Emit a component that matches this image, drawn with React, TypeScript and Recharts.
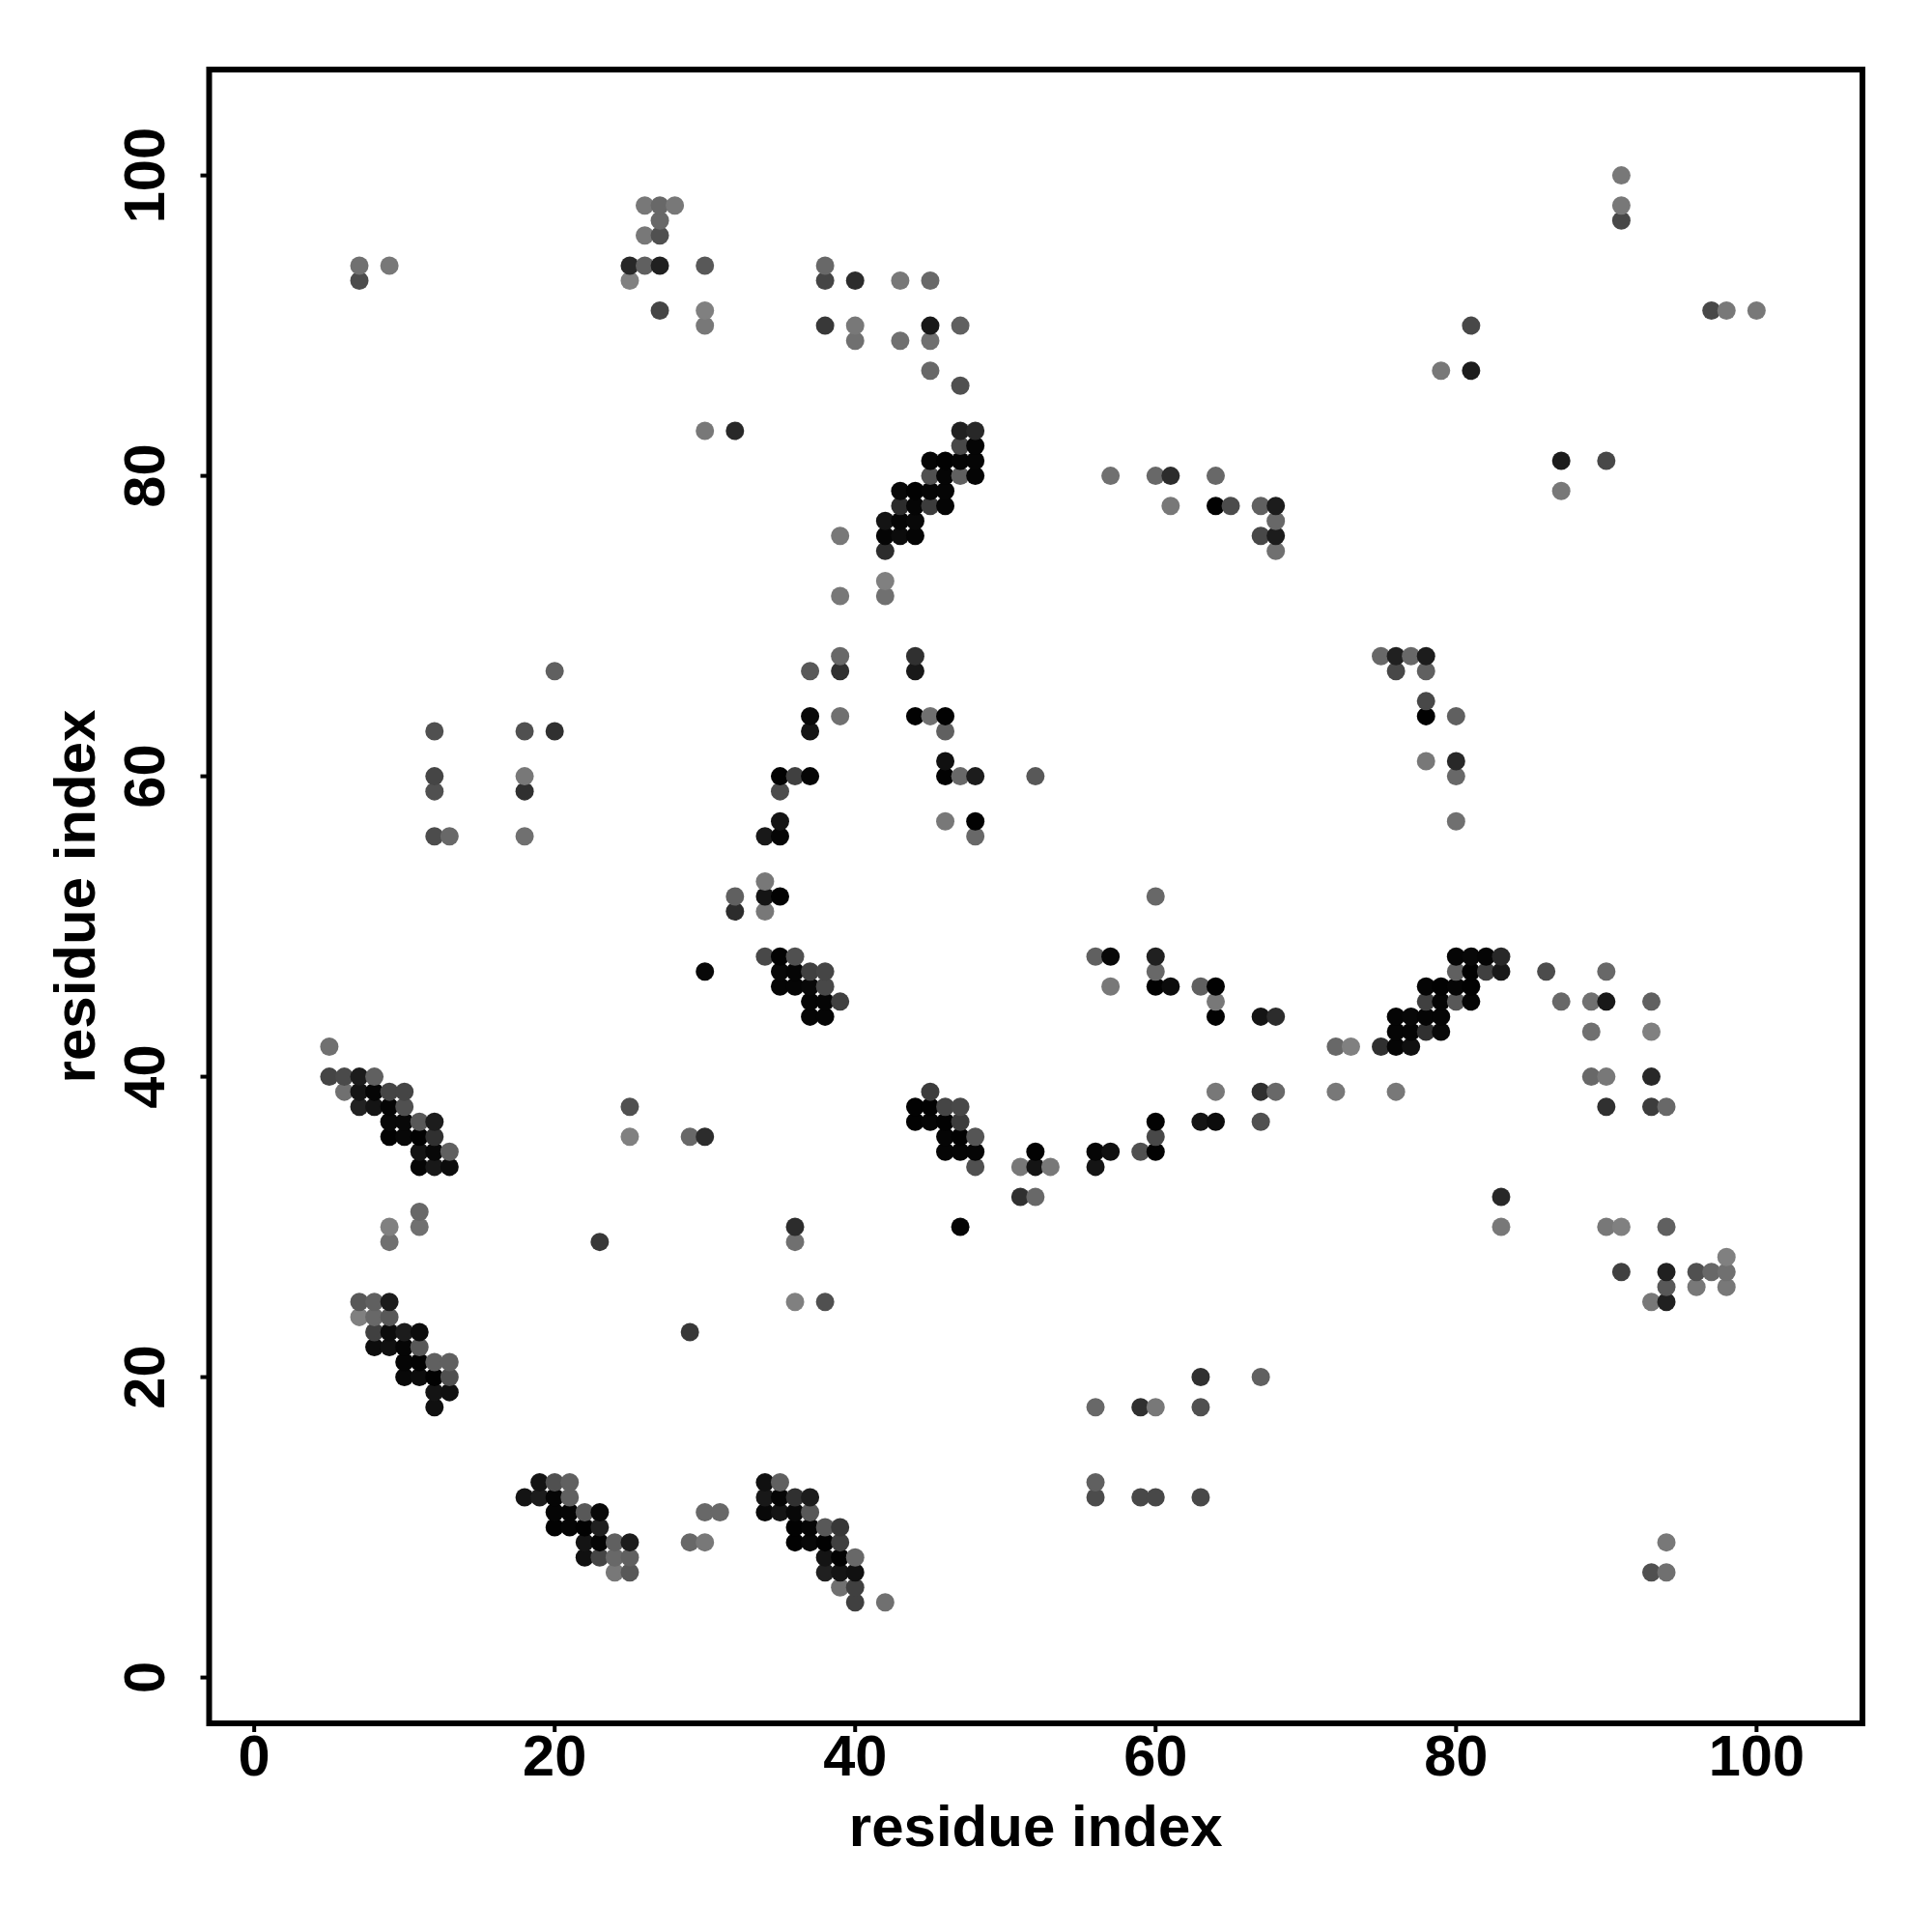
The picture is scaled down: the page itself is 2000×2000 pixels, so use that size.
import React from "react";
import {
  ScatterChart,
  Scatter,
  XAxis,
  YAxis,
  Label,
  ReferenceArea,
} from "recharts";

const axisTicks = [0, 20, 40, 60, 80, 100];
const axisTitle = "residue index";

// one entry per row of the contact map, bottom to top (later rows overlap earlier ones)
const rowIndex = [
  5, 6, 7, 8, 9, 10, 11, 12, 13, 18, 19, 20, 21, 22, 23, 24, 25, 26, 27, 28,
  29, 30, 31, 32, 34, 35, 36, 37, 38, 39, 40, 42, 43, 44, 45, 46, 47, 48, 51,
  52, 53, 56, 57, 59, 60, 61, 63, 64, 65, 67, 68, 72, 73, 75, 76, 77, 78, 79,
  80, 81, 82, 83, 86, 87, 89, 90, 91, 93, 94, 96, 97, 98, 100,
];

const rowResidues = [
  [40, 42],
  [39, 40],
  [24, 25, 38, 39, 40, 93, 94],
  [22, 23, 24, 25, 38, 39, 40],
  [22, 23, 24, 25, 29, 30, 36, 37, 38, 39, 94],
  [20, 21, 22, 23, 36, 37, 38, 39],
  [20, 21, 22, 23, 30, 31, 34, 35, 36, 37],
  [18, 19, 20, 21, 34, 35, 36, 37, 56, 59, 60, 63],
  [19, 20, 21, 34, 35, 56],
  [12, 56, 59, 60, 63],
  [12, 13],
  [10, 11, 12, 13, 63, 67],
  [10, 11, 12, 13],
  [8, 9, 10, 11],
  [8, 9, 10, 11, 29],
  [7, 8, 9],
  [7, 8, 9, 36, 38, 93, 94],
  [94, 96, 98],
  [91, 94, 96, 97, 98],
  [98],
  [9, 23, 36],
  [9, 11, 36, 47, 83, 90, 91, 94],
  [11],
  [51, 52, 83],
  [11, 12, 13, 48, 51, 52, 53, 56],
  [11, 12, 13, 46, 47, 48, 52, 56, 57, 59, 60],
  [9, 10, 11, 12, 25, 29, 30, 46, 47, 48, 60],
  [9, 10, 11, 12, 44, 45, 46, 47, 60, 63, 64, 67],
  [7, 8, 9, 10, 25, 44, 45, 46, 47, 90, 93, 94],
  [6, 7, 8, 9, 10, 45, 64, 67, 68, 72, 76],
  [5, 6, 7, 8, 89, 90, 93],
  [5, 72, 73, 75, 76, 77],
  [76, 77, 78, 79, 89, 93],
  [37, 38, 64, 67, 68, 76, 77, 78, 79],
  [37, 38, 39, 64, 78, 79, 80, 81, 87, 89, 90, 93],
  [35, 36, 37, 38, 57, 60, 61, 63, 64, 78, 79, 80, 81],
  [30, 35, 36, 37, 38, 60, 80, 81, 82, 83, 86, 90],
  [34, 35, 36, 56, 57, 60, 80, 81, 82, 83],
  [32, 34],
  [32, 34, 35, 60],
  [34],
  [12, 13, 18, 34, 35, 48],
  [35, 46, 48, 80],
  [12, 18, 35],
  [12, 18, 35, 36, 37, 46, 47, 48, 52, 80],
  [46, 78, 80],
  [12, 18, 20, 37, 46],
  [37, 39, 44, 45, 46, 78, 80],
  [78],
  [20, 37, 39, 44, 76, 78],
  [39, 44, 75, 76, 77, 78],
  [39, 42],
  [42],
  [42, 68],
  [39, 42, 43, 44, 67, 68],
  [42, 43, 44, 68],
  [43, 44, 45, 46, 61, 64, 65, 67, 68],
  [43, 44, 45, 46, 87],
  [45, 46, 47, 48, 57, 60, 61, 64],
  [45, 46, 47, 48, 87, 90],
  [47, 48],
  [30, 32, 47, 48],
  [47],
  [45, 79, 81],
  [40, 43, 45],
  [30, 38, 40, 45, 47, 81],
  [27, 30, 97, 98, 100],
  [7, 25, 38, 40, 43, 45],
  [7, 9, 25, 26, 27, 30, 38],
  [26, 27],
  [27, 91],
  [26, 27, 28, 91],
  [91],
];

// grey level of each point, same shape as rowResidues
const rowGreys = [
  [0x40, 0x70],
  [0x70, 0x40],
  [0x78, 0x58, 0x20, 0x14, 0x10, 0x50, 0x70],
  [0x10, 0x45, 0x68, 0x60, 0x14, 0x02, 0x68],
  [0x14, 0x05, 0x60, 0x1c, 0x68, 0x78, 0x02, 0x08, 0x02, 0x40, 0x78],
  [0x02, 0x05, 0x02, 0x20, 0x02, 0x05, 0x58, 0x38],
  [0x05, 0x05, 0x58, 0x08, 0x68, 0x68, 0x08, 0x14, 0x08, 0x58],
  [0x14, 0x1c, 0x05, 0x60, 0x18, 0x05, 0x30, 0x1c, 0x4c, 0x48, 0x48, 0x48],
  [0x14, 0x50, 0x60, 0x10, 0x60, 0x60],
  [0x10, 0x68, 0x30, 0x78, 0x50],
  [0x14, 0x10],
  [0x08, 0x0c, 0x02, 0x50, 0x30, 0x60],
  [0x05, 0x02, 0x60, 0x60],
  [0x0c, 0x10, 0x05, 0x58],
  [0x40, 0x0c, 0x1c, 0x0c, 0x38],
  [0x80, 0x68, 0x58],
  [0x58, 0x60, 0x1c, 0x80, 0x50, 0x78, 0x20],
  [0x58, 0x78, 0x78],
  [0x40, 0x20, 0x50, 0x68, 0x70],
  [0x80],
  [0x70, 0x38, 0x70],
  [0x80, 0x70, 0x2c, 0x05, 0x78, 0x78, 0x80, 0x60],
  [0x68],
  [0x30, 0x68, 0x28],
  [0x05, 0x18, 0x0c, 0x50, 0x78, 0x14, 0x78, 0x14],
  [0x14, 0x08, 0x60, 0x05, 0x05, 0x05, 0x02, 0x05, 0x10, 0x50, 0x02],
  [0x02, 0x08, 0x02, 0x30, 0x80, 0x68, 0x2c, 0x05, 0x02, 0x55, 0x48],
  [0x08, 0x08, 0x58, 0x1c, 0x02, 0x05, 0x02, 0x3c, 0x02, 0x14, 0x0c, 0x50],
  [0x22, 0x14, 0x05, 0x50, 0x50, 0x02, 0x02, 0x45, 0x48, 0x30, 0x3c, 0x68],
  [0x70, 0x14, 0x05, 0x45, 0x45, 0x3c, 0x78, 0x30, 0x68, 0x78, 0x78],
  [0x45, 0x4a, 0x1c, 0x60, 0x68, 0x78, 0x28],
  [0x70, 0x68, 0x80, 0x30, 0x05, 0x10],
  [0x05, 0x05, 0x30, 0x08, 0x70, 0x80],
  [0x05, 0x05, 0x02, 0x14, 0x2c, 0x05, 0x08, 0x05, 0x05],
  [0x05, 0x05, 0x40, 0x78, 0x40, 0x05, 0x58, 0x05, 0x68, 0x70, 0x18, 0x60],
  [0x05, 0x05, 0x08, 0x48, 0x78, 0x02, 0x0c, 0x60, 0x02, 0x05, 0x02, 0x05, 0x02],
  [0x08, 0x08, 0x05, 0x40, 0x45, 0x68, 0x60, 0x02, 0x40, 0x18, 0x4c, 0x68],
  [0x48, 0x02, 0x50, 0x60, 0x08, 0x20, 0x05, 0x08, 0x05, 0x28],
  [0x2c, 0x78],
  [0x60, 0x14, 0x02, 0x68],
  [0x78],
  [0x4c, 0x68, 0x70, 0x18, 0x05, 0x68],
  [0x14, 0x78, 0x02, 0x70],
  [0x50, 0x30, 0x4c],
  [0x45, 0x78, 0x02, 0x40, 0x05, 0x02, 0x68, 0x1c, 0x58, 0x68],
  [0x10, 0x78, 0x28],
  [0x50, 0x50, 0x30, 0x14, 0x60],
  [0x08, 0x70, 0x02, 0x70, 0x02, 0x02, 0x60],
  [0x48],
  [0x60, 0x58, 0x30, 0x18, 0x48, 0x60],
  [0x68, 0x30, 0x68, 0x20, 0x68, 0x1c],
  [0x78, 0x70],
  [0x80],
  [0x2c, 0x70],
  [0x78, 0x05, 0x0c, 0x05, 0x48, 0x1c],
  [0x14, 0x05, 0x08, 0x68],
  [0x2c, 0x05, 0x3c, 0x05, 0x78, 0x02, 0x4c, 0x60, 0x1c],
  [0x08, 0x02, 0x05, 0x05, 0x78],
  [0x50, 0x05, 0x60, 0x05, 0x70, 0x68, 0x2c, 0x68],
  [0x05, 0x02, 0x05, 0x05, 0x1c, 0x48],
  [0x48, 0x05],
  [0x78, 0x28, 0x20, 0x28],
  [0x50],
  [0x68, 0x78, 0x1c],
  [0x70, 0x70, 0x70],
  [0x78, 0x38, 0x78, 0x18, 0x60, 0x48],
  [0x45, 0x80, 0x48, 0x78, 0x78],
  [0x4c, 0x80, 0x45, 0x2c, 0x78, 0x68],
  [0x70, 0x78, 0x28, 0x60, 0x20, 0x58, 0x68],
  [0x78, 0x50],
  [0x68, 0x48],
  [0x78, 0x68, 0x78, 0x78],
  [0x78],
];

const contacts = rowIndex.flatMap((y, r) =>
  rowResidues[r].map((x, c) => ({ x, y, grey: rowGreys[r][c] }))
);

const FONT = "'Liberation Sans', Arial, sans-serif";

const ContactDot = ({ cx, cy, payload }: any) => (
  <circle
    cx={cx}
    cy={cy}
    r={9.5}
    fill={`rgb(${payload.grey},${payload.grey},${payload.grey})`}
  />
);

const XTick = ({ x, y, payload }: any) => (
  <text
    x={x}
    y={y + 45}
    textAnchor="middle"
    fontFamily={FONT}
    fontWeight="bold"
    fontSize={59.5}
    fill="#000"
  >
    {payload.value}
  </text>
);

const YTick = ({ x, y, payload }: any) => (
  <text
    x={x - 37}
    y={y}
    textAnchor="middle"
    transform={`rotate(-90 ${x - 37} ${y})`}
    fontFamily={FONT}
    fontWeight="bold"
    fontSize={59.5}
    fill="#000"
  >
    {payload.value}
  </text>
);

const titleStyle = {
  fontFamily: FONT,
  fontWeight: "bold",
  fontSize: 60,
  fill: "#000",
  textAnchor: "middle",
} as const;

export default function App() {
  return (
    <div
      style={{
        position: "absolute",
        left: 0,
        top: 0,
        width: 2000,
        height: 2000,
        background: "#fff",
      }}
    >
      <ScatterChart
        width={2000}
        height={2000}
        margin={{ top: 72, right: 72, bottom: 0, left: 0 }}
      >
        <XAxis
          type="number"
          dataKey="x"
          domain={[-3, 107.05]}
          ticks={axisTicks}
          interval={0}
          height={216}
          axisLine={false}
          tickSize={9}
          tickMargin={0}
          tickLine={{ stroke: "#000", strokeWidth: 4 }}
          tick={<XTick />}
        >
          <Label value={axisTitle} position="insideTop" offset={84} style={titleStyle} />
        </XAxis>
        <YAxis
          type="number"
          dataKey="y"
          domain={[-3.05, 107.05]}
          ticks={axisTicks}
          interval={0}
          width={216.5}
          axisLine={false}
          tickSize={9}
          tickMargin={0}
          tickLine={{ stroke: "#000", strokeWidth: 4 }}
          tick={<YTick />}
        >
          <Label
            value={axisTitle}
            position="insideLeft"
            angle={-90}
            offset={77}
            style={titleStyle}
          />
        </YAxis>
        <ReferenceArea
          x1={-3}
          x2={107.05}
          y1={-3.05}
          y2={107.05}
          fill="none"
          stroke="#000"
          strokeWidth={6}
        />
        <Scatter data={contacts} shape={<ContactDot />} isAnimationActive={false} />
      </ScatterChart>
    </div>
  );
}
